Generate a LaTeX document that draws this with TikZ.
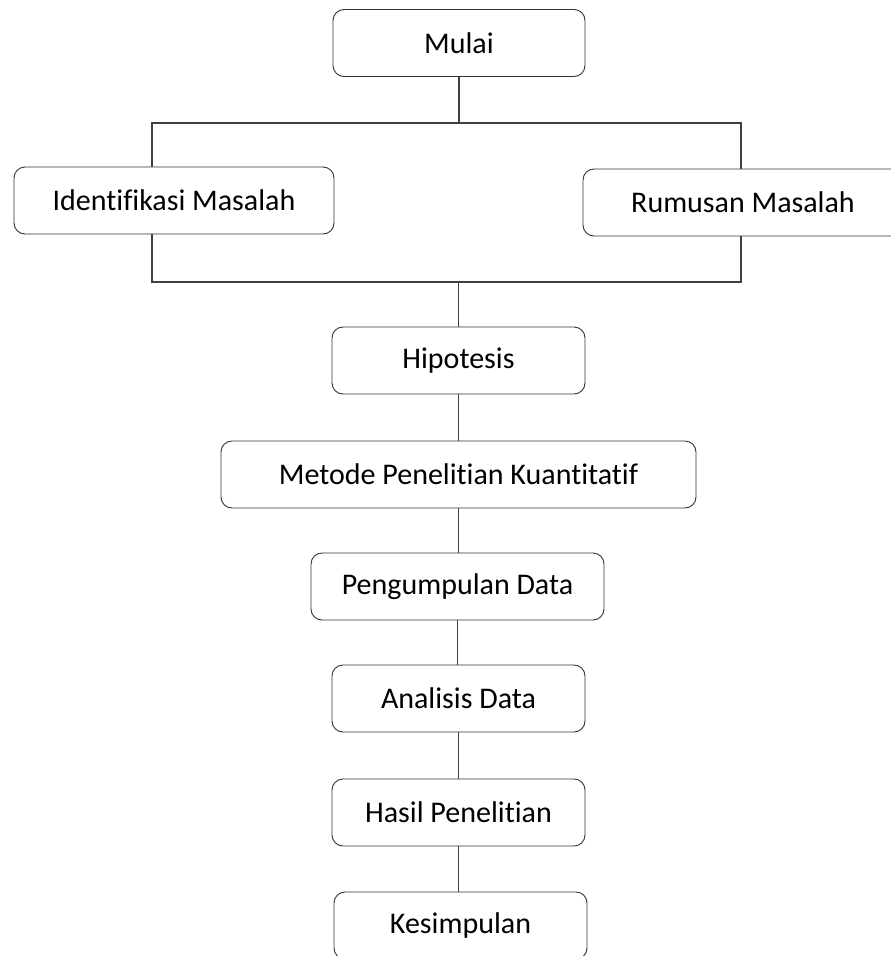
\documentclass[tikz,border=0pt]{standalone}
\usepackage{fontspec}
\setmainfont{Carlito}[Ligatures={NoCommon}]
\usepackage{tikz}
\usetikzlibrary{calc}
\tikzset{
	stepbox/.style={draw=black!80, line width=0.9pt, rounded corners=11pt, inner sep=0pt, minimum height=67pt, font=\fontsize{30}{36}\selectfont},
	link/.style={draw=black!75, line width=1.2pt}
}

\begin{document}
\begin{tikzpicture}[x=1pt, y=-1pt]
			%%%%% START %%%%%
			\useasboundingbox (0, 0) rectangle (891, 956);
			
			\node[stepbox, minimum width=252pt] (mulai) at (459, 43) {Mulai};
			
			\node[stepbox, minimum width=320pt] (ident) at (174, 200.5) {Identifikasi Masalah};
			\node[stepbox, minimum width=320pt] (rumusan) at (743, 202.5) {Rumusan Masalah};
			
			\node[stepbox, minimum width=253pt] (hipotesis) at (458.5, 360.5) {Hipotesis};
			\node[stepbox, minimum width=475pt] (metode) at (458.5, 474.5) {Metode Penelitian Kuantitatif};
			\node[stepbox, minimum width=293pt] (kumpul) at (457.5, 586.5) {Pengumpulan Data};
			\node[stepbox, minimum width=253pt] (analisis) at (458.5, 698.5) {Analisis Data};
			\node[stepbox, minimum width=253pt] (hasil) at (458.5, 812.5) {Hasil Penelitian};
			\node[stepbox, minimum width=253pt] (simpul) at (460.5, 925.5) {Kesimpulan};
			
			% bracket round the two problem boxes
			\coordinate (tl) at (152, 123);
			\coordinate (tr) at (741, 123);
			\coordinate (bl) at (152, 282);
			\coordinate (br) at (741, 282);
			
			\draw[link] (mulai.south) -- (mulai.south |- tl);
			\draw[link] (ident.north -| tl) -- (tl) -- (tr) -- (rumusan.north -| tr);
			\draw[link] (ident.south -| bl) -- (bl) -- (br) -- (rumusan.south -| br);
			\draw[link] (hipotesis.north) -- (hipotesis.north |- bl);
			
			\draw[link] (hipotesis.south) -- (hipotesis.south |- metode.north);
			\draw[link] (metode.south) -- (metode.south |- kumpul.north);
			\draw[link] (kumpul.south) -- (kumpul.south |- analisis.north);
			\draw[link] (analisis.south) -- (analisis.south |- hasil.north);
			\draw[link] (hasil.south) -- (hasil.south |- simpul.north);
			
			%%%%% END %%%%%
\end{tikzpicture}
\end{document}
